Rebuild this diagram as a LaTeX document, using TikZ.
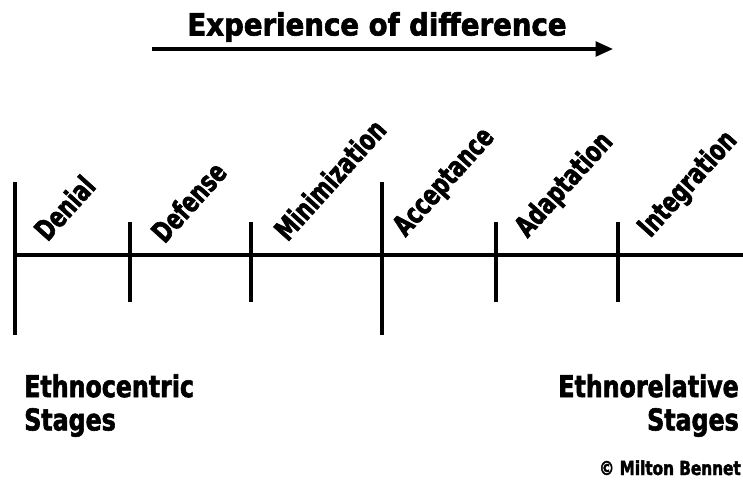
\documentclass[tikz,border=0pt]{standalone}
\usepackage{fontspec}
\newfontfamily\condfont[FakeStretch=0.72,FakeBold=2]{DejaVu Sans Bold}
\newfontfamily\midfont[FakeStretch=0.79,FakeBold=2]{DejaVu Sans Bold}
\newfontfamily\widefont[FakeStretch=0.9,FakeBold=2]{DejaVu Sans Bold}
\usetikzlibrary{arrows.meta}
\begin{document}
\begin{tikzpicture}[x=0.75pt,y=-0.75pt,
  axis/.style={line width=2.8pt},
  tick/.style={line width=2.8pt},
  stage/.style={anchor=south west,rotate=48,inner sep=0pt,font=\condfont\fontsize{21.5}{21.5}\selectfont},
  group/.style={inner sep=0pt,font=\midfont\fontsize{22.5}{25}\selectfont,align=left}]
\useasboundingbox (0,0) rectangle (743,479);
% main axis
\coordinate (L) at (15,255);
\coordinate (R) at (743,255);
\draw[axis] (L) -- (R);
% major dividers
\coordinate (m1t) at (15,182); \coordinate (m1b) at (15,335);
\coordinate (m2t) at (382,182); \coordinate (m2b) at (382,335);
\draw[tick] (m1t) -- (m1b);
\draw[tick] (m2t) -- (m2b);
% minor ticks
\foreach \x/\n in {130/a,251/b,496/c,618/d}{
  \coordinate (\n t) at (\x,222); \coordinate (\n b) at (\x,302);
  \draw[tick] (\n t) -- (\n b);
}
% stage labels
\node[stage] (denial) at (48,243) {Denial};
\node[stage] (defense) at (165,245) {Defense};
\node[stage] (mini) at (288,243) {Minimization};
\node[stage] (accept) at (410,242) {Acceptance};
\node[stage] (adapt) at (532,243) {Adaptation};
\node[stage] (integ) at (655,243) {Integration};
% title arrow
\coordinate (as) at (152,49);
\coordinate (ae) at (613,49);
\draw[line width=2.4pt,-{Triangle[length=13pt,width=11pt]}] (as) -- (ae);
\node[inner sep=0pt,font=\widefont\fontsize{23}{23}\selectfont] (title) at (377,27) {Experience of difference};
% group labels
\node[group,anchor=north west] (ethc) at (24,374) {Ethnocentric\\Stages};
\node[group,anchor=north east,align=right] (ethr) at (739,374) {Ethnorelative\\Stages};
\node[anchor=base east,inner sep=0pt,font=\midfont\fontsize{14.5}{14.5}\selectfont] (copy) at (741,475) {© Milton Bennet};
\end{tikzpicture}
\end{document}
